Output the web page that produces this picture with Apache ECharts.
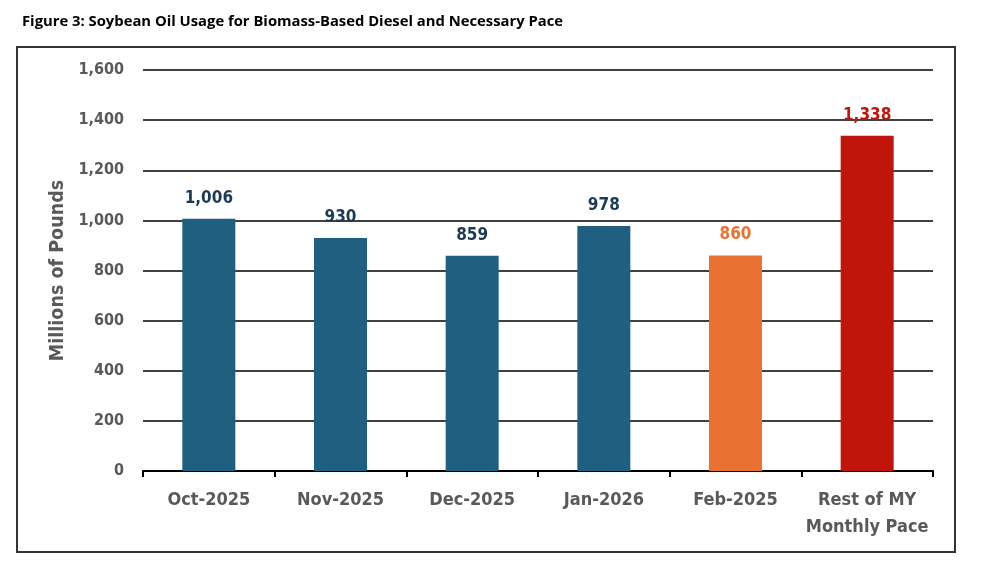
<!DOCTYPE html>
<html><head><meta charset="utf-8">
<script src="https://cdn.jsdelivr.net/npm/echarts@6/dist/echarts.min.js"></script>
<style>html,body{margin:0;padding:0;background:#fff}#c{width:988px;height:571px}</style>
</head><body><div id="c"></div>
<script>
const categories = ['Oct-2025','Nov-2025','Dec-2025','Jan-2026','Feb-2025','Rest of MY\nMonthly Pace'];
const values = [1006, 930, 859, 978, 860, 1338];
const barColors = ['#1f5f80','#1f5f80','#1f5f80','#1f5f80','#e97132','#c0150a'];
const labelColors = ['#1b3a56','#1b3a56','#1b3a56','#1b3a56','#e97132','#c0150a'];
const yTicks = [0,200,400,600,800,1000,1200,1400,1600];

const chart = echarts.init(document.getElementById('c'));
const condensed = '"Liberation Sans Narrow", "DejaVu Sans Condensed", sans-serif';
chart.setOption({
  animation: false,
  title: {
    text: 'Figure 3: Soybean Oil Usage for Biomass-Based Diesel and Necessary Pace',
    left: 17, top: 9,
    textStyle: {fontFamily: '"Open Sans", sans-serif', fontWeight: 'bold', fontSize: 14.8, color: '#000'}
  },
  graphic: [{
    type: 'rect', shape: {x: 17, y: 47, width: 938, height: 505},
    style: {fill: 'none', stroke: '#333', lineWidth: 2}, silent: true
  }],
  grid: {left: 143, right: 55, top: 70, bottom: 100},
  xAxis: {
    type: 'category', data: categories,
    axisLine: {lineStyle: {color: '#000', width: 2}},
    axisTick: {show: true, interval: 0, length: 6, lineStyle: {color: '#000', width: 2}},
    axisLabel: {interval: 0, fontFamily: condensed, fontWeight: 'bold', fontSize: 18, color: '#595959', margin: 16, lineHeight: 27}
  },
  yAxis: {
    type: 'value', min: 0, max: 1600, interval: 200,
    name: 'Millions of Pounds', nameLocation: 'middle', nameGap: 72, nameRotate: 90,
    nameTextStyle: {fontFamily: condensed, fontWeight: 'bold', fontSize: 19.5, color: '#595959'},
    axisLine: {show: false}, axisTick: {show: false},
    splitLine: {lineStyle: {color: '#000', width: 1.5}},
    axisLabel: {
      fontFamily: condensed, fontWeight: 'bold', fontSize: 16, color: '#595959', margin: 19,
      formatter: v => yTicks.includes(v) ? v.toLocaleString('en-US') : ''
    }
  },
  series: [{
    type: 'bar', barWidth: 53,
    data: values.map((v, i) => ({value: v, itemStyle: {color: barColors[i]},
      label: {color: labelColors[i]}})),
    label: {
      show: true, position: 'top', distance: 12,
      fontFamily: condensed, fontWeight: 'bold', fontSize: 17,
      formatter: p => p.value.toLocaleString('en-US')
    }
  }]
});
</script></body></html>
